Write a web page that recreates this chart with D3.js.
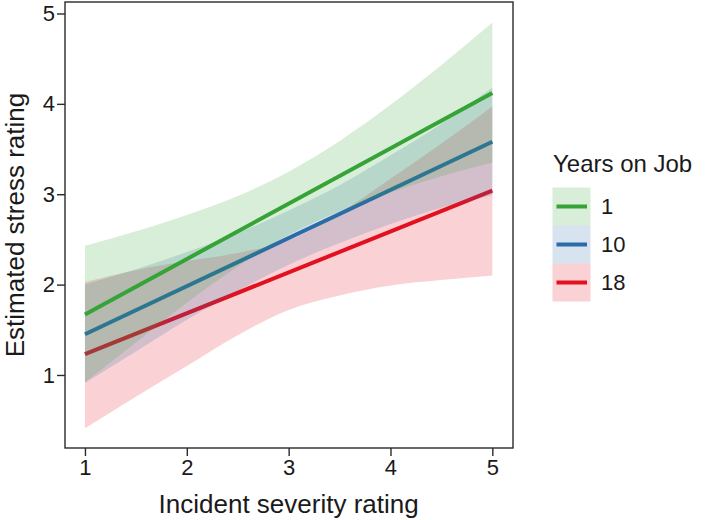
<!DOCTYPE html>
<html>
<head>
<meta charset="utf-8">
<script src="https://cdn.jsdelivr.net/npm/d3@7"></script>
<style>
  html, body { margin: 0; padding: 0; background: #fff; }
  svg { display: block; font-family: "Liberation Sans", Arial, sans-serif; }
</style>
</head>
<body>
<svg id="chart" width="709" height="520"></svg>
<script>
// ---------- data ----------
const groups = ["1", "10", "18"];
const lineX = [1, 5];
const lineGreen = [1.67, 4.12];
const lineBlue  = [1.45, 3.58];
const lineRed   = [1.23, 3.04];

const bandX = [1, 1.5, 2, 2.5, 3, 3.5, 4, 4.5, 5];
const greenUpper = [2.43, 2.59, 2.77, 2.98, 3.25, 3.59, 3.99, 4.43, 4.90];
const greenLower = [0.92, 1.36, 1.80, 2.20, 2.55, 2.81, 3.02, 3.20, 3.35];
const blueUpper  = [2.00, 2.17, 2.36, 2.57, 2.82, 3.10, 3.43, 3.78, 4.18];
const blueLower  = [0.91, 1.26, 1.61, 1.93, 2.22, 2.46, 2.67, 2.85, 2.99];
const redUpper   = [2.03, 2.16, 2.26, 2.35, 2.49, 2.79, 3.17, 3.56, 3.97];
const redLower   = [0.41, 0.76, 1.10, 1.44, 1.72, 1.88, 1.99, 2.05, 2.10];

const xTicks = [1, 2, 3, 4, 5];
const yTicks = [1, 2, 3, 4, 5];
const colors = ["#36a336", "#2b6ca6", "#e3101f"];

// ---------- layout ----------
const svg = d3.select("#chart");
const x = d3.scaleLinear().domain([0.804, 5.203]).range([65, 513]);
const y = d3.scaleLinear().domain([0.192, 5.127]).range([448, 2]);

const series = [
  { name: groups[0], line: lineGreen, up: greenUpper, lo: greenLower, color: colors[0] },
  { name: groups[1], line: lineBlue,  up: blueUpper,  lo: blueLower,  color: colors[1] },
  { name: groups[2], line: lineRed,   up: redUpper,   lo: redLower,   color: colors[2] }
];

const area = d3.area()
  .x(d => x(d.x)).y0(d => y(d.lo)).y1(d => y(d.hi))
  .curve(d3.curveMonotoneX);
const line = d3.line().x(d => x(d.x)).y(d => y(d.y));

const plot = svg.append("g");
// draw in order: 18, 10, 1 (so green ends on top)
series.slice().reverse().forEach(s => {
  const bd = bandX.map((bx, i) => ({ x: bx, lo: s.lo[i], hi: s.up[i] }));
  plot.append("path").datum(bd)
    .attr("d", area).attr("fill", s.color).attr("fill-opacity", 0.19);
  const ld = lineX.map((lx, i) => ({ x: lx, y: s.line[i] }));
  plot.append("path").datum(ld)
    .attr("d", line).attr("fill", "none")
    .attr("stroke", s.color).attr("stroke-width", 4);
});

// frame
svg.append("rect")
  .attr("x", 65).attr("y", 2).attr("width", 448).attr("height", 446)
  .attr("fill", "none").attr("stroke", "#2a2a2a").attr("stroke-width", 1.4);

// axes
const xAxis = svg.append("g").attr("transform", "translate(0,448)")
  .call(d3.axisBottom(x).tickValues(xTicks).tickFormat(d3.format("d")).tickSize(8).tickPadding(3));
const yAxis = svg.append("g").attr("transform", "translate(65,0)")
  .call(d3.axisLeft(y).tickValues(yTicks).tickFormat(d3.format("d")).tickSize(8).tickPadding(2));
[xAxis, yAxis].forEach(a => {
  a.select(".domain").remove();
  a.selectAll(".tick line").attr("stroke", "#2a2a2a").attr("stroke-width", 1.4);
  a.selectAll(".tick text").attr("fill", "#1a1a1a").style("font-size", "22px")
    .style("font-family", "'Liberation Sans', Arial, sans-serif");
});

// axis titles
svg.append("text")
  .attr("x", x(3)).attr("y", 513)
  .attr("text-anchor", "middle").attr("fill", "#1a1a1a")
  .style("font-size", "26px")
  .text("Incident severity rating");
svg.append("text")
  .attr("transform", "translate(24,225) rotate(-90)")
  .attr("text-anchor", "middle").attr("fill", "#1a1a1a")
  .style("font-size", "26px")
  .text("Estimated stress rating");

// legend
const lg = svg.append("g");
lg.append("text").attr("x", 553).attr("y", 172)
  .attr("fill", "#1a1a1a").style("font-size", "24px").text("Years on Job");
series.forEach((s, i) => {
  const top = 187.5 + i * 38;
  lg.append("rect").attr("x", 552.5).attr("y", top).attr("width", 38).attr("height", 38)
    .attr("fill", s.color).attr("fill-opacity", 0.19);
  lg.append("line").attr("x1", 556.5).attr("x2", 587).attr("y1", top + 19).attr("y2", top + 19)
    .attr("stroke", s.color).attr("stroke-width", 4);
  lg.append("text").attr("x", 601).attr("y", top + 26.5)
    .attr("fill", "#1a1a1a").style("font-size", "22px").text(s.name);
});
</script>
</body>
</html>
